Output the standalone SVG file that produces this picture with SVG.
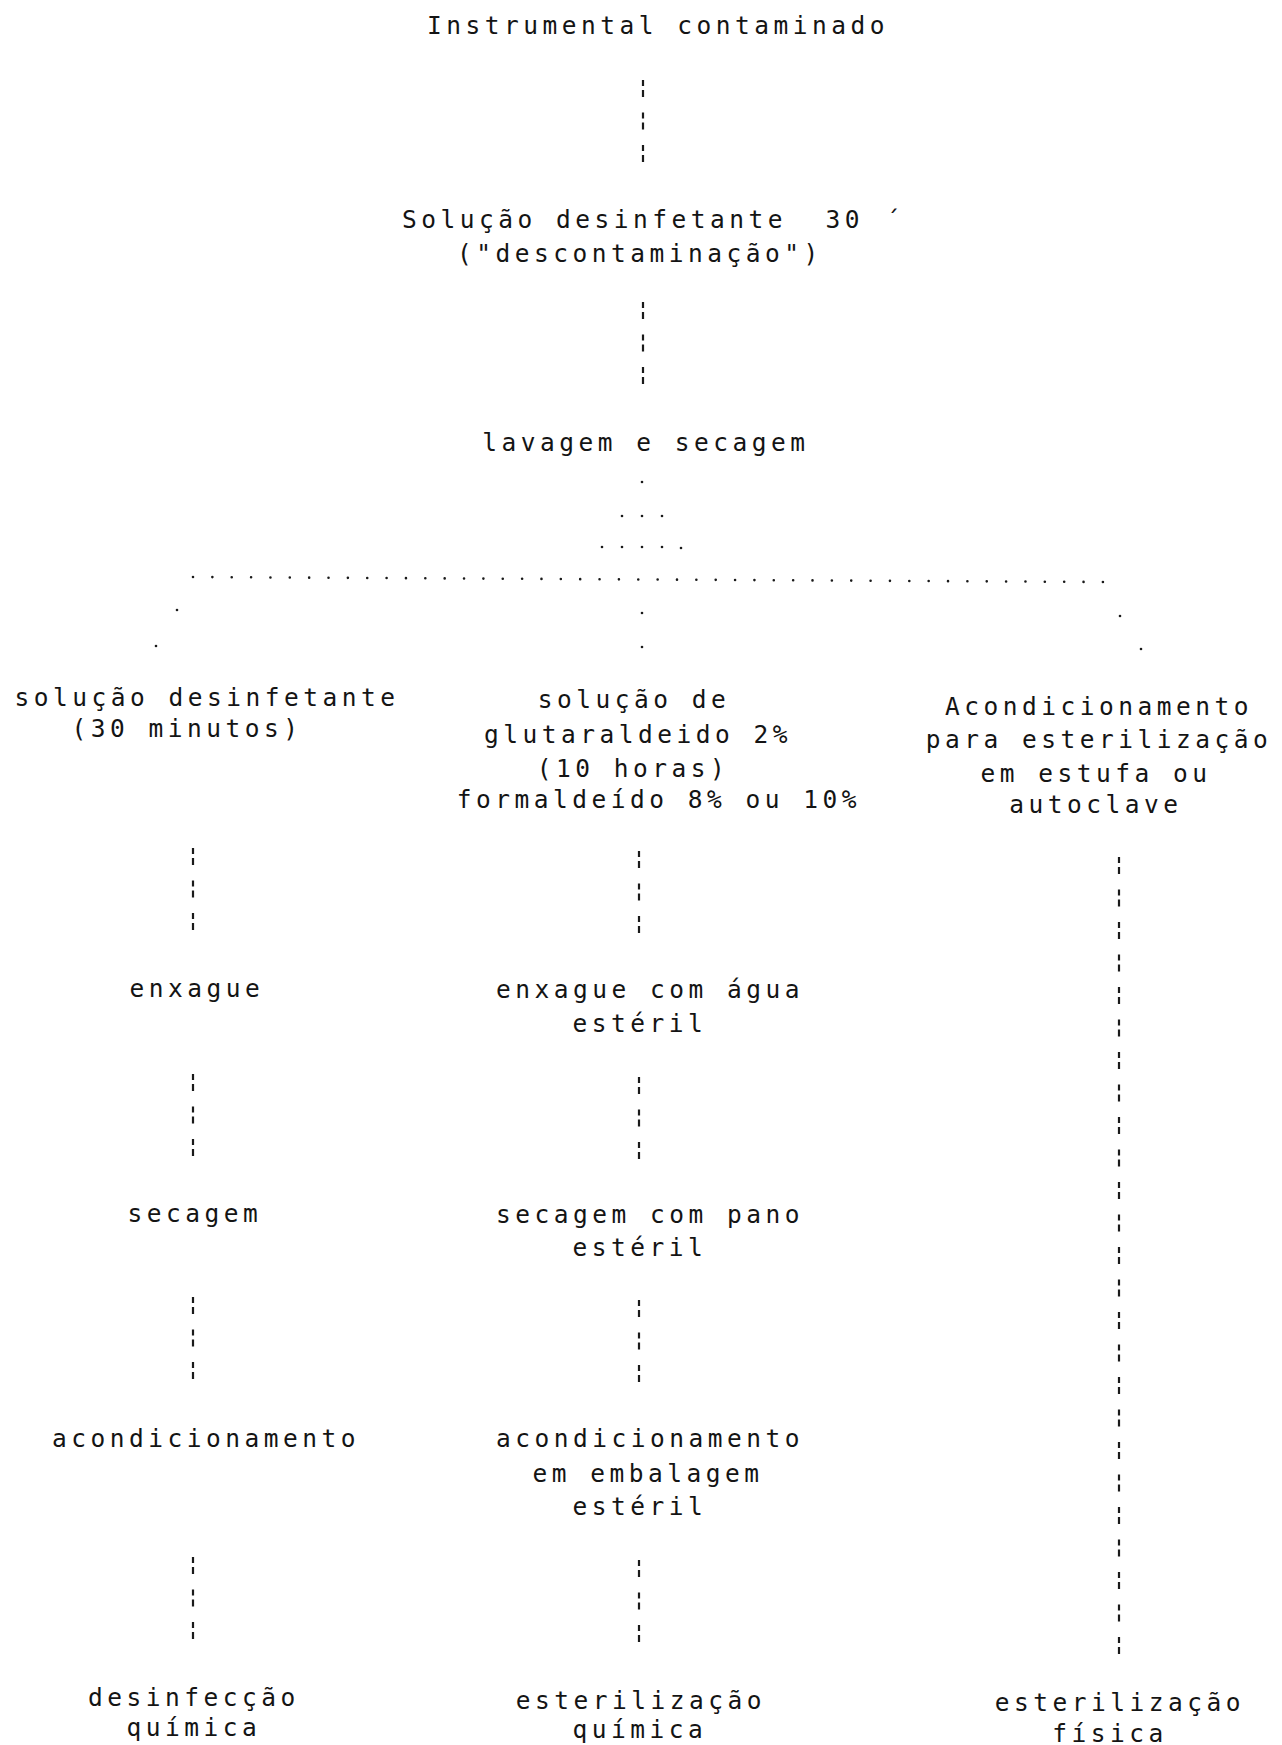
<svg xmlns="http://www.w3.org/2000/svg" width="1282" height="1745" viewBox="0 0 1282 1745">
<style>
  text { font-family: "DejaVu Sans Mono", "Liberation Mono", monospace; font-size: 24.5px; letter-spacing: 4.5px; fill: #141414; text-anchor: middle; }
  .dash { stroke: #1a1a1a; stroke-width: 2.2; fill: none; stroke-dasharray: 6 4 7 15.5; }
  .dots { stroke: #1a1a1a; stroke-width: 2.6; fill: none; stroke-linecap: round; stroke-dasharray: 0 19.36; }
  .dot { fill: #1a1a1a; }
</style>
<rect width="1282" height="1745" fill="#ffffff"/>

<g id="connectors">
  <line class="dash" x1="643" y1="80" x2="643" y2="164"/>
  <line class="dash" x1="643" y1="302" x2="643" y2="386"/>
  <circle class="dot" cx="642" cy="482" r="1.3"/>
  <circle class="dot" cx="622" cy="516" r="1.3"/>
  <circle class="dot" cx="642" cy="516" r="1.3"/>
  <circle class="dot" cx="662" cy="516" r="1.3"/>
  <circle class="dot" cx="602" cy="547" r="1.3"/>
  <circle class="dot" cx="622" cy="547" r="1.3"/>
  <circle class="dot" cx="642" cy="547" r="1.3"/>
  <circle class="dot" cx="662" cy="547" r="1.3"/>
  <circle class="dot" cx="681" cy="548" r="1.3"/>
  <path class="dots" d="M193 577 L1103 582"/>
  <circle class="dot" cx="177" cy="610" r="1.3"/>
  <circle class="dot" cx="156" cy="646" r="1.3"/>
  <circle class="dot" cx="642" cy="613" r="1.3"/>
  <circle class="dot" cx="642" cy="647" r="1.3"/>
  <circle class="dot" cx="1120" cy="616" r="1.3"/>
  <circle class="dot" cx="1141" cy="649" r="1.3"/>
  <line class="dash" x1="193" y1="848" x2="193" y2="932"/>
  <line class="dash" x1="193" y1="1074" x2="193" y2="1160"/>
  <line class="dash" x1="193" y1="1297" x2="193" y2="1379"/>
  <line class="dash" x1="193" y1="1557" x2="193" y2="1641"/>
  <line class="dash" x1="639" y1="851" x2="639" y2="935"/>
  <line class="dash" x1="639" y1="1077" x2="639" y2="1162"/>
  <line class="dash" x1="639" y1="1300" x2="639" y2="1384"/>
  <line class="dash" x1="639" y1="1560" x2="639" y2="1644"/>
  <line class="dash" x1="1119" y1="857" x2="1119" y2="1655"/>
</g>

<g id="instrumental-contaminado">
  <text x="658" y="34">Instrumental contaminado</text>
</g>
<g id="solucao-desinfetante">
  <text x="633" y="228" xml:space="preserve">Solução desinfetante  30</text>
  <text x="893" y="228" style="letter-spacing:0">´</text>
  <text x="640" y="262">(&quot;descontaminação&quot;)</text>
</g>
<g id="lavagem-secagem">
  <text x="646" y="451">lavagem e secagem</text>
</g>

<g id="left-solucao">
  <text x="207" y="706">solução desinfetante</text>
  <text x="187" y="737">(30 minutos)</text>
</g>
<g id="mid-glutaraldeido">
  <text x="634" y="708">solução de</text>
  <text x="638" y="743">glutaraldeido 2%</text>
  <text x="633" y="777">(10 horas)</text>
  <text x="659" y="808">formaldeído 8% ou 10%</text>
</g>
<g id="right-acondicionamento">
  <text x="1099" y="715">Acondicionamento</text>
  <text x="1099" y="748">para esterilização</text>
  <text x="1096" y="782">em estufa ou</text>
  <text x="1096" y="813">autoclave</text>
</g>

<g id="left-enxague">
  <text x="197" y="997">enxague</text>
</g>
<g id="mid-enxague">
  <text x="650" y="998">enxague com água</text>
  <text x="640" y="1032">estéril</text>
</g>

<g id="left-secagem">
  <text x="195" y="1222">secagem</text>
</g>
<g id="mid-secagem">
  <text x="650" y="1223">secagem com pano</text>
  <text x="640" y="1256">estéril</text>
</g>

<g id="left-acondicionamento">
  <text x="206" y="1447">acondicionamento</text>
</g>
<g id="mid-acondicionamento">
  <text x="650" y="1447">acondicionamento</text>
  <text x="648" y="1482">em embalagem</text>
  <text x="640" y="1515">estéril</text>
</g>

<g id="left-desinfeccao">
  <text x="194" y="1706">desinfecção</text>
  <text x="194" y="1736">química</text>
</g>
<g id="mid-esterilizacao">
  <text x="641" y="1709">esterilização</text>
  <text x="640" y="1738">química</text>
</g>
<g id="right-esterilizacao">
  <text x="1120" y="1711">esterilização</text>
  <text x="1110" y="1742">física</text>
</g>
</svg>
